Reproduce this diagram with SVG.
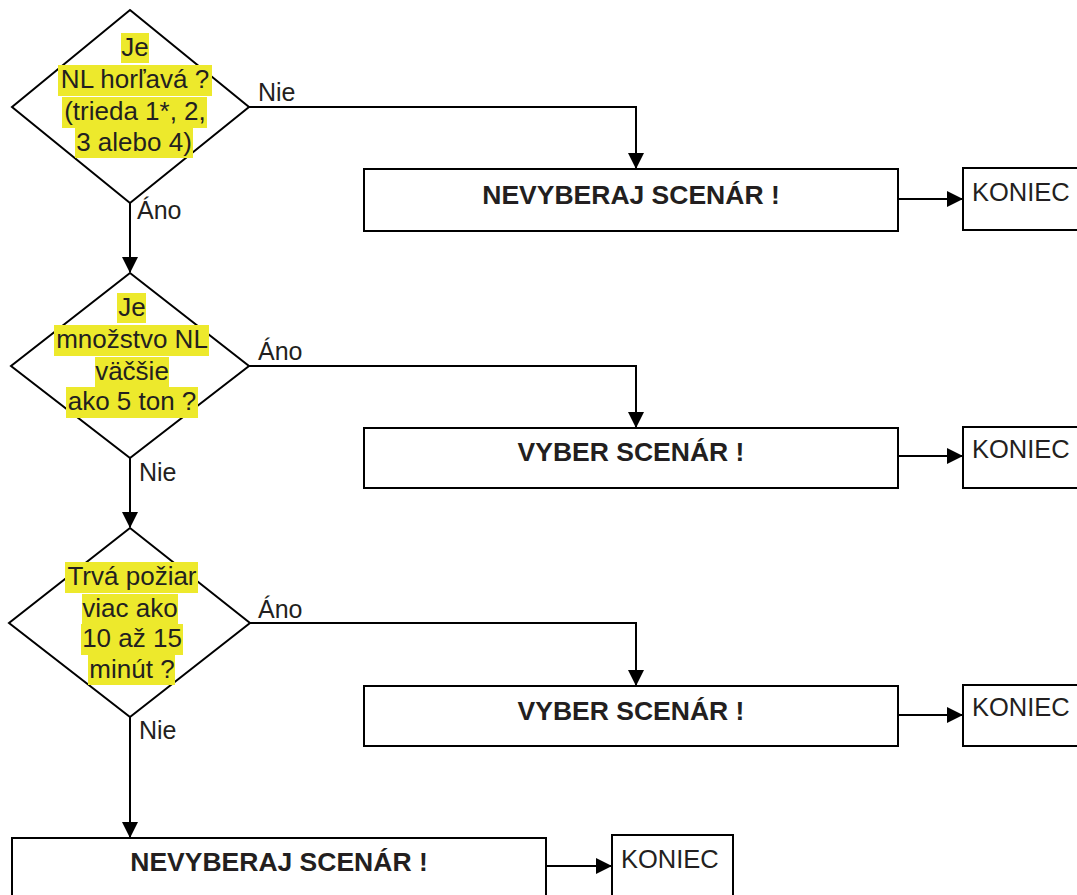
<svg xmlns="http://www.w3.org/2000/svg" width="1077" height="895" viewBox="0 0 1077 895">
  <style>
    .shape { fill: #ffffff; stroke: #000000; stroke-width: 2; }
    .conn { fill: none; stroke: #000000; stroke-width: 2; }
    .hl { fill: #ede92c; }
    .q { font-family: "Liberation Sans", Arial, sans-serif; font-size: 26px; fill: #231f20; text-anchor: middle; }
    .act { font-family: "Liberation Sans", Arial, sans-serif; font-size: 26.5px; font-weight: bold; fill: #231f20; text-anchor: middle; }
    .end { font-family: "Liberation Sans", Arial, sans-serif; font-size: 25.5px; fill: #231f20; }
    .lbl { font-family: "Liberation Sans", Arial, sans-serif; font-size: 25px; fill: #231f20; }
  </style>
  <defs>
    <marker id="arrow" markerUnits="userSpaceOnUse" markerWidth="16" markerHeight="16" refX="15" refY="8" orient="auto">
      <path d="M0,0 L16,8 L0,16 z" fill="#000000"/>
    </marker>
  </defs>
  <rect width="1077" height="895" fill="#ffffff"/>

  <!-- connectors -->
  <g id="connectors">
    <polyline class="conn" points="249,107 636,107 636,168" marker-end="url(#arrow)"/>
    <line class="conn" x1="130" y1="203" x2="130" y2="272" marker-end="url(#arrow)"/>
    <line class="conn" x1="898" y1="199" x2="962" y2="199" marker-end="url(#arrow)"/>
    <polyline class="conn" points="249,366 636,366 636,427" marker-end="url(#arrow)"/>
    <line class="conn" x1="130" y1="458" x2="130" y2="527" marker-end="url(#arrow)"/>
    <line class="conn" x1="898" y1="456" x2="962" y2="456" marker-end="url(#arrow)"/>
    <polyline class="conn" points="250,623 636,623 636,685" marker-end="url(#arrow)"/>
    <line class="conn" x1="898" y1="715" x2="962" y2="715" marker-end="url(#arrow)"/>
    <line class="conn" x1="130" y1="717" x2="130" y2="837" marker-end="url(#arrow)"/>
    <line class="conn" x1="546" y1="866" x2="611" y2="866" marker-end="url(#arrow)"/>
    <text class="lbl" x="258" y="101">Nie</text>
    <text class="lbl" x="137" y="219">Áno</text>
    <text class="lbl" x="258" y="360">Áno</text>
    <text class="lbl" x="139" y="481">Nie</text>
    <text class="lbl" x="258" y="618">Áno</text>
    <text class="lbl" x="139" y="739">Nie</text>
  </g>

  <!-- decision: flammable -->
  <g id="q1">
    <polygon class="shape" points="130,10 249,107 130,203 12,107"/>
    <rect class="hl" x="121" y="33" width="28" height="30"/>
    <rect class="hl" x="58" y="65" width="154" height="31"/>
    <rect class="hl" x="62" y="97" width="145" height="31"/>
    <rect class="hl" x="75" y="128" width="118" height="30"/>
    <text class="q" x="135" y="56">Je</text>
    <text class="q" x="135" y="88">NL horľavá ?</text>
    <text class="q" x="135" y="120">(trieda 1*, 2,</text>
    <text class="q" x="134" y="151">3 alebo 4)</text>
  </g>

  <!-- decision: quantity -->
  <g id="q2">
    <polygon class="shape" points="130,273 249,366 130,458 11,366"/>
    <rect class="hl" x="117" y="293" width="29" height="30"/>
    <rect class="hl" x="54" y="325" width="155" height="31"/>
    <rect class="hl" x="95" y="357" width="74" height="30"/>
    <rect class="hl" x="66" y="387" width="132" height="31"/>
    <text class="q" x="132" y="316">Je</text>
    <text class="q" x="132" y="348">množstvo NL</text>
    <text class="q" x="132" y="380">väčšie</text>
    <text class="q" x="132" y="410">ako 5 ton ?</text>
  </g>

  <!-- decision: fire duration -->
  <g id="q3">
    <polygon class="shape" points="130,528 250,623 130,717 9,623"/>
    <rect class="hl" x="65" y="562" width="133" height="31"/>
    <rect class="hl" x="82" y="594" width="96" height="30"/>
    <rect class="hl" x="81" y="624" width="102" height="31"/>
    <rect class="hl" x="88" y="655" width="87" height="30"/>
    <text class="q" x="132" y="585">Trvá požiar</text>
    <text class="q" x="130" y="617">viac ako</text>
    <text class="q" x="132" y="647">10 až 15</text>
    <text class="q" x="132" y="678">minút ?</text>
  </g>

  <!-- actions -->
  <g id="a1">
    <rect class="shape" x="364" y="169" width="534" height="62"/>
    <text class="act" x="631" y="204">NEVYBERAJ SCENÁR !</text>
  </g>
  <g id="a2">
    <rect class="shape" x="364" y="428" width="534" height="60"/>
    <text class="act" x="631" y="461">VYBER SCENÁR !</text>
  </g>
  <g id="a3">
    <rect class="shape" x="364" y="686" width="534" height="60"/>
    <text class="act" x="631" y="720">VYBER SCENÁR !</text>
  </g>
  <g id="a4">
    <rect class="shape" x="12" y="838" width="534" height="70"/>
    <text class="act" x="279" y="871">NEVYBERAJ SCENÁR !</text>
  </g>

  <!-- terminators -->
  <g id="end1">
    <rect class="shape" x="963" y="168" width="130" height="62"/>
    <text class="end" x="972" y="201">KONIEC</text>
  </g>
  <g id="end2">
    <rect class="shape" x="963" y="427" width="130" height="61"/>
    <text class="end" x="972" y="458">KONIEC</text>
  </g>
  <g id="end3">
    <rect class="shape" x="963" y="685" width="130" height="61"/>
    <text class="end" x="972" y="716">KONIEC</text>
  </g>
  <g id="end4">
    <rect class="shape" x="612" y="835" width="121" height="70"/>
    <text class="end" x="621" y="868">KONIEC</text>
  </g>
</svg>
